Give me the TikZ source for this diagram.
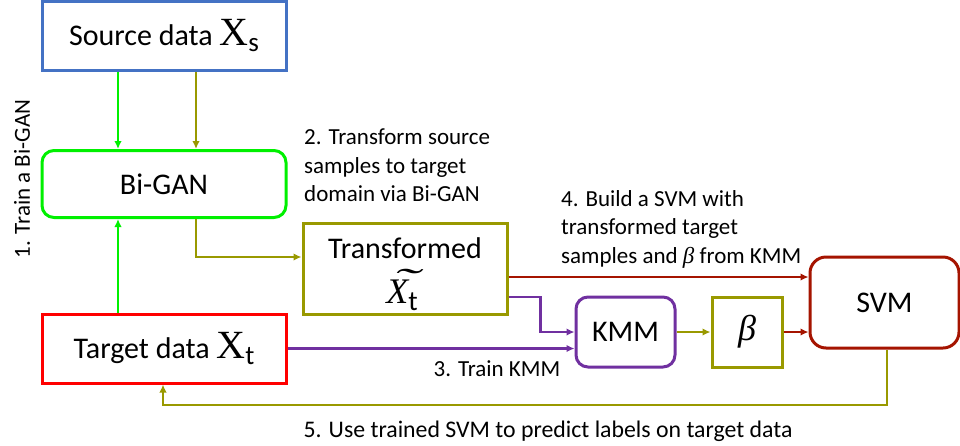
\documentclass[tikz,border=0pt]{standalone}
\usepackage{fontspec}
\setmainfont{Carlito}
\newfontfamily\serifX{Liberation Serif}
\usetikzlibrary{arrows.meta,calc}
\definecolor{cblue}{RGB}{68,114,196}
\definecolor{cgreen}{RGB}{0,240,0}
\definecolor{colive}{RGB}{153,153,0}
\definecolor{cred}{RGB}{255,0,0}
\definecolor{cdred}{RGB}{165,20,0}
\definecolor{cpurple}{RGB}{112,48,160}
\newcommand{\bigXsub}[1]{{\serifX\fontsize{40}{40}\selectfont X}\raisebox{-6pt}{\fontsize{27}{27}\selectfont #1}}
\newcommand{\tildeX}{{\serifX\itshape\fontsize{36}{36}\selectfont\rlap{\raisebox{0.26em}{\hspace{0.16em}\scalebox{2.2}[1]{\char"02DC}}}X}}
\newcommand{\itbeta}{{\serifX\itshape β}}
\begin{document}
\begin{tikzpicture}[x=1pt,y=-1pt,
  box/.style={draw, line width=3pt, inner sep=0pt, fill=white,
    font=\fontsize{30}{36}\selectfont, align=center},
  conn/.style={line width=2.6pt, -{Latex[length=8pt,width=7.5pt]}},
  lbl/.style={inner sep=0pt, font=\fontsize{23}{28.5}\selectfont, align=left}
]
\useasboundingbox (0,0) rectangle (960,445);

% boxes
\node[box, draw=cblue, minimum width=244pt, minimum height=68.5pt] (src) at (164,35.75) {Source data \bigXsub{s}};
\node[box, draw=cgreen, rounded corners=12pt, minimum width=244pt, minimum height=67pt] (bigan) at (164,184) {Bi-GAN};
\node[box, draw=colive, minimum width=204pt, minimum height=91pt] (trans) at (405,268.5) {};
\node[font=\fontsize{30}{36}\selectfont, inner sep=0pt] (transtxt) at (405,248) {Transformed};
\node[inner sep=0pt] (transx) at (402,290) {\tildeX\raisebox{-7pt}{\fontsize{28}{28}\selectfont t}};
\node[box, draw=cred, minimum width=244pt, minimum height=69pt] (target) at (164,348.5) {Target data \bigXsub{t}};
\node[box, draw=cpurple, rounded corners=12pt, minimum width=99pt, minimum height=70pt] (kmm) at (625.5,332) {KMM};
\node[box, draw=colive, minimum width=70pt, minimum height=70pt] (beta) at (747,332) {\fontsize{36}{36}\selectfont\itbeta};
\node[box, draw=cdred, rounded corners=16pt, minimum width=149pt, minimum height=91pt] (svm) at (884.5,302.5) {SVM};

% connectors
\draw[conn, cgreen] ([xshift=-46pt]src.south) -- ([xshift=-46pt]bigan.north);
\draw[conn, colive] ([xshift=32pt]src.south) -- ([xshift=32pt]bigan.north);
\draw[conn, cgreen] ([xshift=-46pt]target.north) -- ([xshift=-46pt]bigan.south);
\draw[conn, colive] ([xshift=32pt]bigan.south) |- ([yshift=11.5pt]trans.west);
\draw[conn, cdred] ([yshift=-8.5pt]trans.east) -- ([yshift=-8.5pt]trans.east -| svm.west);
\draw[conn, cpurple] ([yshift=-28.5pt]trans.east) -| ($(kmm.west)+(-34,0)$) -- (kmm.west);
\draw[conn, cpurple] (target.east) -- (target.east -| kmm.west);
\draw[conn, colive] (kmm.east) -- (beta.west);
\draw[conn, cdred] (beta.east) -- (beta.east -| svm.west);
\coordinate (fb) at (0,405);
\draw[conn, colive] ([xshift=2.5pt]svm.south) |- ([xshift=-1pt]target.south |- fb) -- ([xshift=-1pt]target.south);

% labels
\node[lbl, rotate=90] (l1) at (22,179) {1. Train a Bi-GAN};
\node[lbl, anchor=north west] (l2) at (304,129) {2. Transform source\\samples to target\\domain via Bi-GAN};
\node[lbl, anchor=north west] (l4) at (561,190) {4. Build a SVM with\\transformed target\\samples and \itbeta{} from KMM};
\node[lbl] (l3) at (497,369) {3. Train KMM};
\node[lbl, font=\fontsize{23.8}{28.5}\selectfont] (l5) at (548,431) {5. Use trained SVM to predict labels on target data};
\end{tikzpicture}
\end{document}
